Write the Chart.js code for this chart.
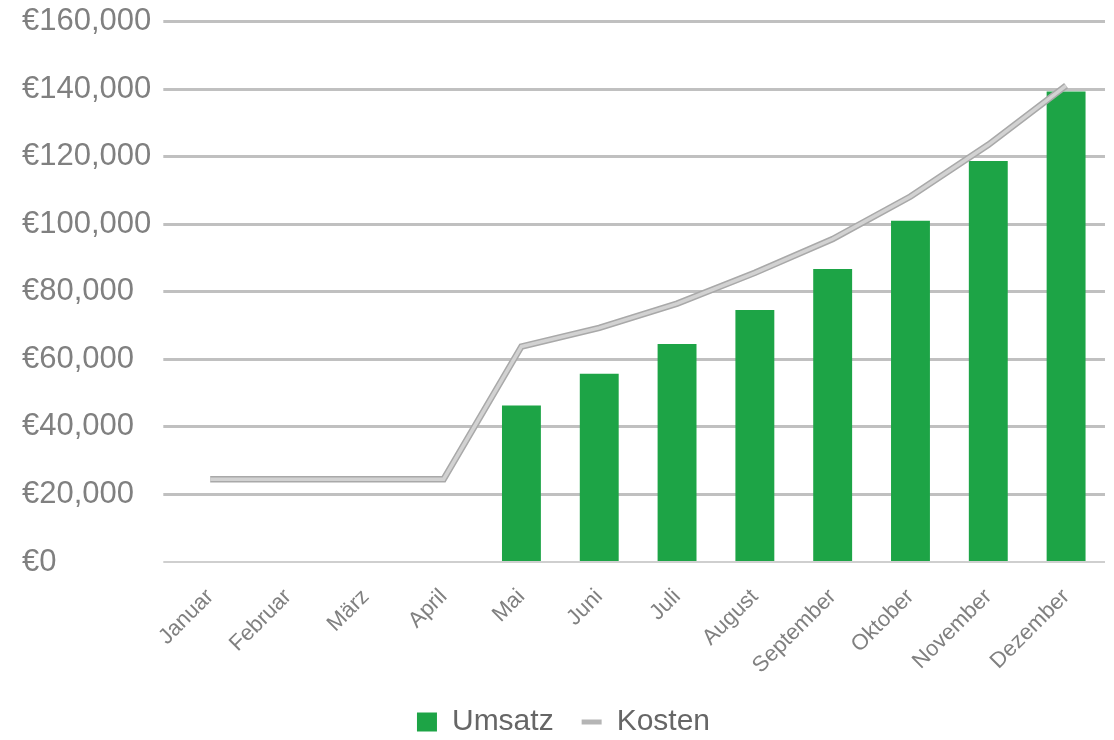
<!DOCTYPE html>
<html><head><meta charset="utf-8">
<script src="https://cdn.jsdelivr.net/npm/chart.js@4/dist/chart.umd.min.js"></script>
<style>html,body{margin:0;padding:0;background:#fff}#wrap{width:1114px;height:740px}</style>
</head><body><div id="wrap"><canvas id="c" width="1114" height="740"></canvas></div>
<script>
const categories = ["Januar","Februar","März","April","Mai","Juni","Juli","August","September","Oktober","November","Dezember"];
const umsatz = [null,null,null,null,46300,55700,64500,74600,86700,101000,118700,139300];
const kosten = [24500,24500,24500,24500,63800,69300,76500,85600,95600,108200,123500,141000];
const yTicks = [0,20000,40000,60000,80000,100000,120000,140000,160000];

const fmt = v => '€' + v.toLocaleString('en-US');

new Chart(document.getElementById('c'), {
  data: {
    labels: categories,
    datasets: [
      {type:'line', label:'Kosten', data:kosten, borderColor:'#d2d2d2', borderWidth:3.5, pointRadius:0, tension:0, order:0},
      {type:'line', label:'_outline', data:kosten, borderColor:'#a9a9a9', borderWidth:6.5, pointRadius:0, tension:0, order:1},
      {type:'bar', label:'Umsatz', data:umsatz, backgroundColor:'#1da446', borderColor:'#1da446', borderWidth:0, categoryPercentage:1, barPercentage:0.5, order:2}
    ]
  },
  options: {
    responsive:false, animation:false,
    layout:{padding:{left:22,right:9,top:1,bottom:-7}},
    plugins:{
      legend:{position:'bottom', labels:{
        font:{family:'Liberation Sans', size:30}, color:'#666', boxWidth:19, boxHeight:19, padding:28,
        generateLabels:(chart)=>{
          return [
            {text:'Umsatz', fillStyle:'#1da446', strokeStyle:'#1da446', lineWidth:0, pointStyle:'rect', datasetIndex:2, fontColor:'#666'},
            {text:'Kosten', fillStyle:'#cfcfcf', strokeStyle:'#b5b5b5', lineWidth:5, pointStyle:'line', datasetIndex:0, fontColor:'#666'}
          ];
        },
        usePointStyle:true, pointStyleWidth:20
      }},
      tooltip:{enabled:false}
    },
    scales:{
      x:{grid:{display:false, drawTicks:false}, border:{display:false},
        afterFit:(ax)=>{ax.height = 117;},
        ticks:{maxRotation:45, minRotation:45, padding:22, color:'#808080', font:{family:'Liberation Sans', size:22}}},
      y:{min:0, max:160000,
        afterBuildTicks:(ax)=>{ax.ticks = yTicks.map(v=>({value:v}));},
        grid:{color:(c)=>c.tick && c.tick.value===0 ? '#cfcfcf' : '#c0c0c0', lineWidth:(c)=>c.tick && c.tick.value===0 ? 2 : 3, tickLength:8},
        border:{display:false},
        ticks:{callback:(v)=>fmt(v), crossAlign:'far', padding:6, color:'#808080', font:{family:'Liberation Sans', size:31, lineHeight:1}}}
    }
  }
});
</script></body></html>
